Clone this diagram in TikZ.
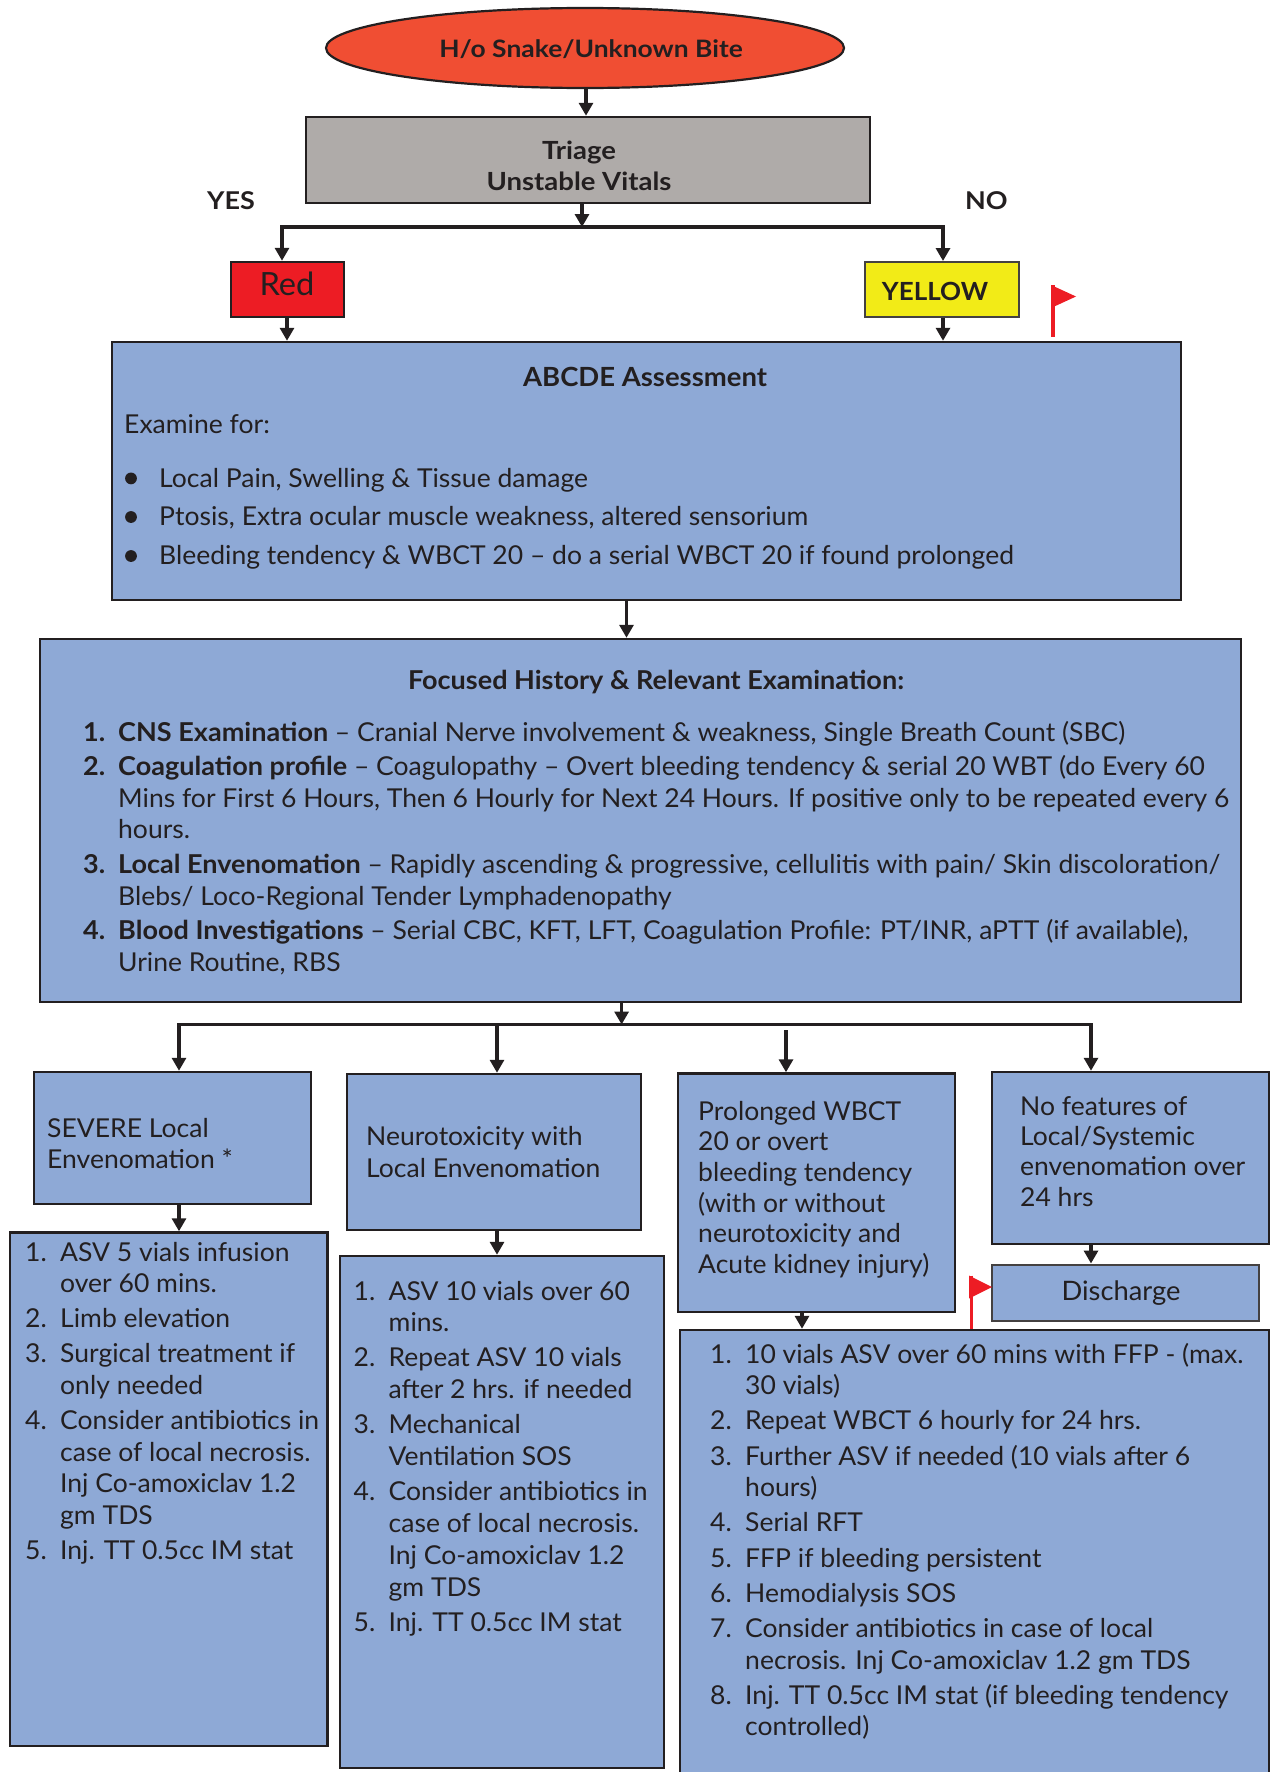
\documentclass[tikz,border=0pt]{standalone}
\usepackage{fontspec}
\setmainfont{Lato}[UprightFeatures={FakeStretch=1.02}, BoldFeatures={FakeStretch=1.04}]
\newfontfamily\topbf{Lato}[UprightFeatures={FakeStretch=1.1}, BoldFeatures={FakeStretch=1.1}]
\usetikzlibrary{arrows.meta,fit,shapes.geometric}
\definecolor{lineC}{HTML}{231F20}
\definecolor{blueC}{HTML}{8EA9D6}
\definecolor{grayC}{HTML}{AFABA9}
\definecolor{ovalC}{HTML}{F04E33}
\definecolor{redC}{HTML}{ED1C24}
\definecolor{yelC}{HTML}{F2EB17}
\newcommand\tl[2]{{\fontsize{26}{#1}\selectfont\begin{tabular}[t]{@{}l@{}}#2\end{tabular}}}
\newcommand\itm[1]{\makebox[35pt][l]{#1}}
\newcommand\hang{\hspace*{35pt}}
\newcommand\xgap{\\[3.3pt]}
\begin{document}
\begin{tikzpicture}[x=1pt,y=-1pt,
  box/.style={draw=lineC, line width=2.5pt, fill=blueC, inner sep=0pt},
  txt/.style={inner sep=0pt, anchor=base west, font=\fontsize{26}{31}\selectfont, text=lineC},
  ctxt/.style={txt, anchor=base},
  arr/.style={draw=lineC, line width=3.2pt, -{Triangle[width=14pt,length=13pt]}},
  darr/.style={draw=lineC, line width=3.2pt, {Triangle[width=14pt,length=13pt]}-{Triangle[width=14pt,length=13pt]}},
  bul/.style={circle, fill=lineC, inner sep=0pt, minimum size=11.8pt}]
\useasboundingbox (0,0) rectangle (1275,1772);
% top
\node[ellipse, draw=lineC, line width=2.2pt, fill=ovalC, minimum width=518pt, minimum height=80pt] (snake) at (585,48) {};
\node[ctxt, font=\fontsize{24}{28}\topbf\bfseries] (snakeT) at (591,57) {H/o Snake/Unknown Bite};
\node[box, fill=grayC, fit={(306,117) (870,203)}] (triage) {};
\node[ctxt, font=\fontsize{25}{31}\topbf\bfseries] (triT1) at (579,159) {Triage};
\node[ctxt, font=\fontsize{25}{31}\topbf\bfseries] (triT2) at (579,190) {Unstable Vitals};
\node[txt, font=\fontsize{24.5}{28}\topbf\bfseries] (yes) at (207,209) {YES};
\node[txt, font=\fontsize{24.5}{28}\topbf\bfseries] (no) at (965,209) {NO};
\node[box, fill=redC, fit={(231,262) (344,317)}] (red) {};
\node[ctxt, font=\fontsize{32}{36}\selectfont] (redT) at (287,295) {Red};
\node[box, draw=lineC!85, line width=2pt, fill=yelC, fit={(865,262) (1019,317)}] (yellow) {};
\node[ctxt, font=\fontsize{25}{31}\selectfont\bfseries] (yelT) at (935,300) {YELLOW};
\fill[redC] (1051,285) -- (1076,296.5) -- (1051,308) -- cycle;
\draw[redC, line width=3.6pt] (1053,285) -- (1053,337);
% ABCDE
\node[box, fit={(112,342) (1181,600)}] (abcde) {};
\node[ctxt, font=\fontsize{26.4}{31}\selectfont\bfseries] (abT) at (645,386) {ABCDE Assessment};
\node[txt] (exT) at (124,433) {Examine for:};
\node[bul] (b1) at (131,478.4) {};
\node[bul] (b2) at (131,517) {};
\node[bul] (b3) at (131,556) {};
\node[txt] (bT) at (159,487) {\tl{38.75}{Local Pain, Swelling \& Tissue damage\\ Ptosis, Extra ocular muscle weakness, altered sensorium\\ Bleeding tendency \& WBCT 20 – do a serial WBCT 20 if found prolonged}};
% focused
\node[box, fit={(40,639) (1241,1002)}] (focused) {};
\node[ctxt, font=\fontsize{26}{31}\selectfont\bfseries] (fT) at (656,689) {Focused History \& Relevant Examination:};
\node[txt] (fL) at (83,741) {\tl{31.8}{\itm{\bfseries 1.}\textbf{CNS Examination} – Cranial Nerve involvement \& weakness, Single Breath Count (SBC)\\[2.5pt]
\itm{\bfseries 2.}\textbf{Coagulation profile} – Coagulopathy – Overt bleeding tendency \& serial 20 WBT (do Every 60\\
\hang Mins for First 6 Hours, Then 6 Hourly for Next 24 Hours. If positive only to be repeated every 6\\
\hang hours.\\[2.5pt]
\itm{\bfseries 3.}\textbf{Local Envenomation} – Rapidly ascending \& progressive, cellulitis with pain/ Skin discoloration/\\
\hang Blebs/ Loco-Regional Tender Lymphadenopathy\\[2.5pt]
\itm{\bfseries 4.}\textbf{Blood Investigations} – Serial CBC, KFT, LFT, Coagulation Profile: PT/INR, aPTT (if available),\\
\hang Urine Routine, RBS}};
% second row boxes
\node[box, fit={(34,1072) (311,1204)}] (severe) {};
\node[txt] (sevT) at (47,1137.5) {\tl{31.1}{SEVERE Local\\ Envenomation *}};
\node[box, fit={(347,1074) (641,1230)}] (neuro) {};
\node[txt] (neuT) at (366,1145.7) {\tl{31.3}{Neurotoxicity with\\ Local Envenomation}};
\node[box, fit={(678,1073.5) (955,1312)}] (prolonged) {};
\node[txt] (proT) at (698,1120) {\tl{30.7}{Prolonged WBCT\\ 20 or overt\\ bleeding tendency\\ (with or without\\ neurotoxicity and\\ Acute kidney injury)}};
\node[box, fit={(992,1072) (1269,1244)}] (nofeat) {};
\node[txt] (nofT) at (1020,1115) {\tl{30.4}{No features of\\ Local/Systemic\\ envenomation over\\ 24 hrs}};
\node[box, draw=lineC!85, line width=2pt, fit={(992,1264.5) (1259,1320.5)}] (discharge) {};
\node[ctxt, font=\fontsize{26.8}{31}\selectfont] (disT) at (1121,1300) {Discharge};
\fill[redC] (969,1275.5) -- (992,1287) -- (969,1298.5) -- cycle;
\draw[redC, line width=3.6pt] (971.5,1275.5) -- (971.5,1329);
% lists
\node[box, fit={(10,1232.5) (327.5,1746)}] (list1) {};
\node[txt] (l1T) at (25,1261) {\tl{31.7}{\itm{1.}ASV 5 vials infusion\\ \hang over 60 mins.\xgap
\itm{2.}Limb elevation\xgap
\itm{3.}Surgical treatment if\\ \hang only needed\xgap
\itm{4.}Consider antibiotics in\\ \hang case of local necrosis.\\ \hang Inj Co-amoxiclav 1.2\\ \hang gm TDS\xgap
\itm{5.}Inj. TT 0.5cc IM stat}};
\node[box, fit={(340,1256) (664,1768)}] (list2) {};
\node[txt] (l2T) at (353.5,1300) {\tl{31.8}{\itm{1.}ASV 10 vials over 60\\ \hang mins.\xgap
\itm{2.}Repeat ASV 10 vials\\ \hang after 2 hrs. if needed\xgap
\itm{3.}Mechanical\\ \hang Ventilation SOS\xgap
\itm{4.}Consider antibiotics in\\ \hang case of local necrosis.\\ \hang Inj Co-amoxiclav 1.2\\ \hang gm TDS\xgap
\itm{5.}Inj. TT 0.5cc IM stat}};
\node[box, fit={(680,1330) (1269,1785)}] (list3) {};
\node[txt] (l3T) at (710,1363) {\tl{31.8}{\itm{1.}10 vials ASV over 60 mins with FFP - (max.\\ \hang 30 vials)\xgap
\itm{2.}Repeat WBCT 6 hourly for 24 hrs.\xgap
\itm{3.}Further ASV if needed (10 vials after 6\\ \hang hours)\xgap
\itm{4.}Serial RFT\xgap
\itm{5.}FFP if bleeding persistent\xgap
\itm{6.}Hemodialysis SOS\xgap
\itm{7.}Consider antibiotics in case of local\\ \hang necrosis. Inj Co-amoxiclav 1.2 gm TDS\xgap
\itm{8.}Inj. TT 0.5cc IM stat (if bleeding tendency\\ \hang controlled)}};
% connectors
\coordinate (a1) at (586,0);
\draw[arr] (snake.south -| a1) -- (triage.north -| a1);
\coordinate (j1) at (582,227);
\draw[arr] (triage.south -| j1) -- (j1);
\coordinate (bl) at (282,227);
\coordinate (br) at (943,227);
\draw[darr] (red.north -| bl) -- (bl) -- (br) -- (yellow.north -| br);
\coordinate (rx) at (287,0);
\draw[arr] (red.south -| rx) -- (abcde.north -| rx);
\draw[arr] (yellow.south -| br) -- (abcde.north -| br);
\coordinate (a2) at (626.5,0);
\draw[arr] (abcde.south -| a2) -- (focused.north -| a2);
\coordinate (j2) at (621.6,1024.5);
\draw[arr] (focused.south -| j2) -- (j2);
\coordinate (cl) at (179,1024.5);
\coordinate (cr) at (1091,1024.5);
\draw[darr] (severe.north -| cl) -- (cl) -- (cr) -- (nofeat.north -| cr);
\coordinate (cn) at (497,1024.5);
\draw[arr] (cn) -- (neuro.north -| cn);
\coordinate (cp) at (786,1030);
\draw[arr] (cp) -- (prolonged.north -| cp);
\draw[arr] (severe.south -| cl) -- (list1.north -| cl);
\draw[arr] (neuro.south -| cn) -- (list2.north -| cn);
\coordinate (pl) at (802,0);
\draw[arr] (prolonged.south -| pl) -- (list3.north -| pl);
\draw[arr] (nofeat.south -| cr) -- (discharge.north -| cr);
\end{tikzpicture}
\end{document}
